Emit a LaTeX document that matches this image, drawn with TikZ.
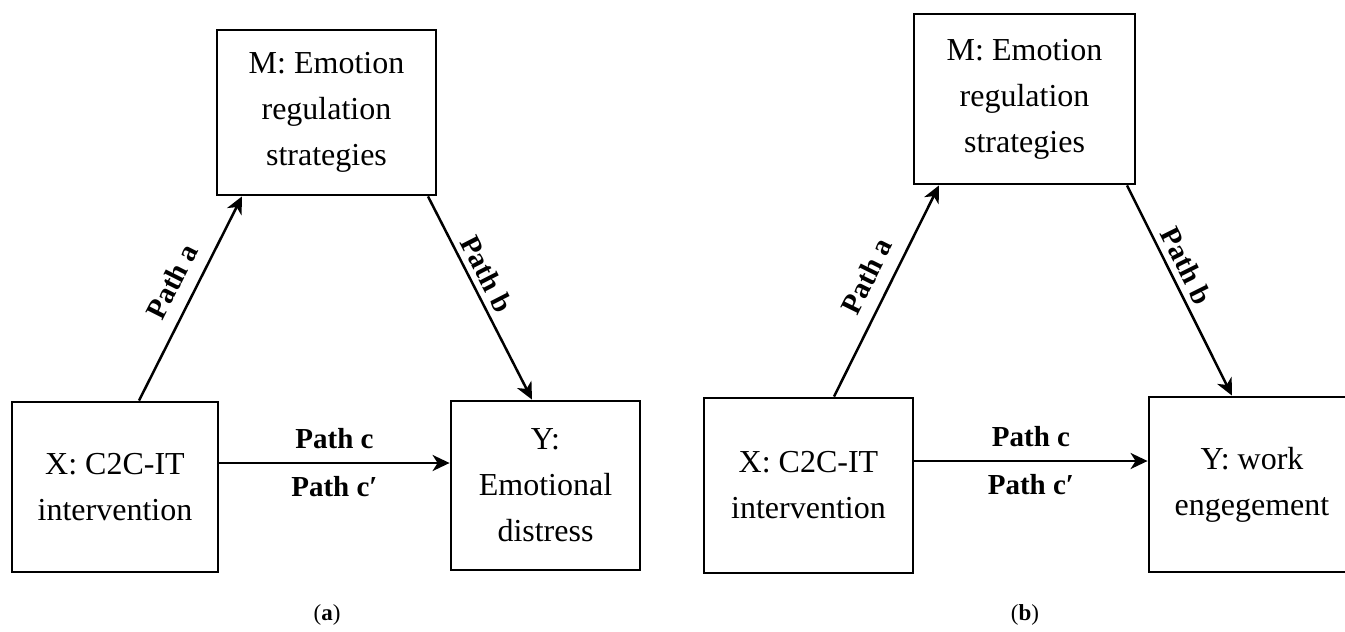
\documentclass[tikz,border=0pt]{standalone}
\usepackage{fontspec}
\setmainfont{Liberation Serif}
\usetikzlibrary{arrows.meta,calc}
\begin{document}
\begin{tikzpicture}[x=1pt,y=-1pt,
  box/.style={draw, line width=2.8pt, rectangle, align=center, font=\fontsize{32}{46}\selectfont, inner sep=0pt},
  arr/.style={line width=2.5pt, -{Stealth[length=17pt,width=16pt,inset=5pt]}},
  lab/.style={font=\fontsize{29}{34}\selectfont\bfseries, inner sep=3pt},
  capt/.style={font=\fontsize{23}{27}\selectfont, inner sep=0pt}]
\useasboundingbox (0,0) rectangle (1345,632);
\clip (0,0) rectangle (1345,632);
% panel a
\node[box, minimum width=206, minimum height=170] (Xa) at (115,487) {X: C2C-IT\\intervention};
\node[box, minimum width=219, minimum height=165] (Ma) at (326.5,112.5) {M: Emotion\\regulation\\strategies};
\node[box, minimum width=189, minimum height=169] (Ya) at (545.5,485.5) {Y:\\Emotional\\distress};
\draw[arr] ($(Xa.north)+(24,0)$) -- node[lab, sloped, above=10pt, pos=0.53] {Path a} ($(Ma.south)+(-84.5,0)$);
\draw[arr] ($(Ma.south)+(101.5,0)$) -- node[lab, sloped, above=3pt, pos=0.42] {Path b} ($(Ya.north)+(-13.5,0)$);
\draw[arr] ($(Xa.east)+(0,-24)$) coordinate (sa) -- node[lab, above=10pt] {Path c} node[lab, below=9pt] {Path c′} (sa -| Ya.west);
\node[capt] (ca) at (327,615) {(\textbf{a})};
% panel b
\node[box, minimum width=209, minimum height=175] (Xb) at (808.5,485.5) {X: C2C-IT\\intervention};
\node[box, minimum width=221, minimum height=170] (Mb) at (1024.5,99) {M: Emotion\\regulation\\strategies};
\node[box, minimum width=206, minimum height=175] (Yb) at (1252,484.5) {Y: work\\engegement};
\draw[arr] ($(Xb.north)+(25.5,0)$) -- node[lab, sloped, above=10pt, pos=0.52] {Path a} ($(Mb.south)+(-85.5,0)$);
\draw[arr] ($(Mb.south)+(102.5,0)$) -- node[lab, sloped, above=3pt, pos=0.42] {Path b} ($(Yb.north)+(-20,0)$);
\draw[arr] ($(Xb.east)+(0,-24.5)$) coordinate (sb) -- node[lab, above=10pt] {Path c} node[lab, below=9pt] {Path c′} (sb -| Yb.west);
\node[capt] (cb) at (1025,615) {(\textbf{b})};
\end{tikzpicture}
\end{document}
